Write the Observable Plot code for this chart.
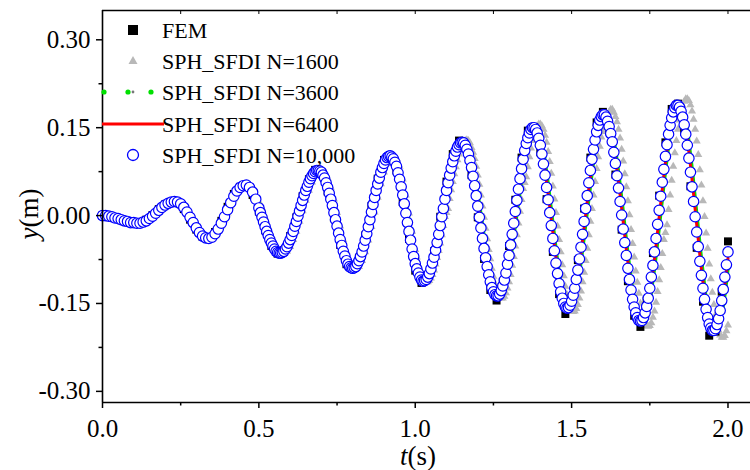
<!DOCTYPE html>
<html><head><meta charset="utf-8">
<script src="https://cdn.jsdelivr.net/npm/d3@7"></script>
<script src="https://cdn.jsdelivr.net/npm/@observablehq/plot@0.6"></script>
<style>
body{margin:0;background:#fff;}
#wrap{position:relative;width:750px;height:470px;overflow:hidden;background:#fff;}
#wrap svg.overlay{position:absolute;left:0;top:0;pointer-events:none;}
#wrap svg, #wrap svg text{font-family:'Liberation Serif','Times New Roman',serif !important;}
</style></head><body>
<div id="wrap"></div>
<script>
// ---- data ----
// SPH_SFDI N=10,000 : A: t = 0.00..0.49 (step 0.01), B: t = 0.500..0.995 (step 0.005), C: t = 1.000..2.000 (step 0.005)
const sph10000A = [0.000,0.000,-0.001,-0.002,-0.004,-0.005,-0.007,-0.009,-0.010,-0.012,
-0.012,-0.013,-0.013,-0.011,-0.009,-0.005,-0.001,0.004,0.009,0.014,
0.018,0.021,0.023,0.024,0.023,0.020,0.014,0.006,-0.003,-0.012,
-0.021,-0.029,-0.035,-0.038,-0.039,-0.037,-0.031,-0.023,-0.013,-0.002,
0.010,0.022,0.033,0.042,0.048,0.051,0.052,0.048,0.040,0.028];
const sph10000B = [0.013,0.005,-0.003,-0.011,-0.019,-0.027,-0.034,-0.041,-0.047,-0.052,
-0.057,-0.061,-0.063,-0.064,-0.064,-0.063,-0.061,-0.057,-0.053,-0.047,
-0.041,-0.034,-0.027,-0.018,-0.010,-0.001,0.008,0.017,0.026,0.035,
0.043,0.050,0.057,0.063,0.068,0.072,0.075,0.077,0.077,0.076,
0.074,0.069,0.064,0.056,0.048,0.038,0.028,0.017,0.005,-0.007,
-0.018,-0.030,-0.041,-0.051,-0.061,-0.069,-0.077,-0.083,-0.087,-0.089,
-0.090,-0.089,-0.087,-0.082,-0.077,-0.070,-0.062,-0.052,-0.042,-0.031,
-0.019,-0.007,0.006,0.019,0.031,0.043,0.054,0.064,0.074,0.082,
0.089,0.095,0.099,0.101,0.102,0.100,0.097,0.091,0.084,0.073,
0.062,0.049,0.035,0.020,0.004,-0.012,-0.027,-0.042,-0.057,-0.070];
const sph10000C = [-0.082,-0.091,-0.098,-0.105,-0.110,-0.112,-0.111,-0.109,-0.105,-0.099,
-0.091,-0.081,-0.071,-0.059,-0.046,-0.032,-0.017,-0.002,0.012,0.028,
0.043,0.056,0.069,0.081,0.092,0.102,0.110,0.117,0.121,0.124,
0.125,0.124,0.120,0.113,0.105,0.094,0.082,0.067,0.051,0.034,
0.016,-0.003,-0.021,-0.039,-0.056,-0.072,-0.087,-0.101,-0.113,-0.123,
-0.130,-0.135,-0.137,-0.137,-0.134,-0.128,-0.120,-0.110,-0.098,-0.083,
-0.068,-0.050,-0.032,-0.013,0.007,0.026,0.045,0.063,0.080,0.096,
0.111,0.123,0.133,0.141,0.147,0.150,0.150,0.147,0.141,0.132,
0.120,0.105,0.088,0.069,0.048,0.027,0.005,-0.017,-0.039,-0.060,
-0.081,-0.099,-0.116,-0.130,-0.141,-0.150,-0.156,-0.158,-0.157,-0.153,
-0.146,-0.136,-0.124,-0.109,-0.093,-0.074,-0.054,-0.032,-0.010,0.012,
0.034,0.056,0.077,0.096,0.113,0.129,0.143,0.154,0.163,0.169,
0.172,0.172,0.168,0.161,0.152,0.140,0.126,0.108,0.089,0.068,
0.047,0.024,0.001,-0.023,-0.046,-0.068,-0.090,-0.109,-0.127,-0.143,
-0.156,-0.166,-0.174,-0.179,-0.180,-0.179,-0.174,-0.166,-0.155,-0.141,
-0.124,-0.105,-0.085,-0.062,-0.039,-0.015,0.009,0.033,0.057,0.079,
0.101,0.121,0.139,0.154,0.167,0.177,0.184,0.188,0.188,0.185,
0.178,0.168,0.155,0.139,0.120,0.098,0.074,0.049,0.024,-0.002,
-0.028,-0.053,-0.078,-0.102,-0.124,-0.143,-0.160,-0.174,-0.185,-0.192,
-0.196,-0.196,-0.193,-0.186,-0.176,-0.162,-0.145,-0.126,-0.105,-0.084,
-0.062];

// SPH_SFDI N=1600 : early t = 0.00..0.99 (step 0.01), late t = 1.000..2.000 (step 0.005)
const sph1600Early = [0.000,0.000,-0.001,-0.002,-0.003,-0.005,-0.006,-0.008,-0.010,-0.011,
-0.012,-0.013,-0.013,-0.012,-0.010,-0.007,-0.003,0.002,0.007,0.012,
0.016,0.020,0.022,0.024,0.024,0.022,0.017,0.010,0.002,-0.008,
-0.017,-0.025,-0.032,-0.037,-0.039,-0.038,-0.034,-0.027,-0.018,-0.008,
0.004,0.016,0.028,0.038,0.045,0.050,0.052,0.050,0.044,0.034,
0.024,0.013,-0.003,-0.019,-0.034,-0.047,-0.057,-0.063,-0.064,-0.061,
-0.053,-0.041,-0.027,-0.010,0.008,0.026,0.043,0.057,0.068,0.075,
0.077,0.074,0.064,0.048,0.028,0.005,-0.018,-0.041,-0.061,-0.077,
-0.087,-0.090,-0.087,-0.077,-0.062,-0.042,-0.019,0.006,0.031,0.054,
0.074,0.089,0.099,0.102,0.097,0.084,0.062,0.035,0.004,-0.027];
const sph1600Late = [-0.058,-0.071,-0.084,-0.093,-0.100,-0.107,-0.112,-0.114,-0.113,-0.111,
-0.107,-0.101,-0.093,-0.083,-0.072,-0.060,-0.047,-0.033,-0.017,-0.002,
0.005,0.012,0.029,0.044,0.058,0.071,0.083,0.095,0.105,0.113,
0.121,0.125,0.128,0.129,0.128,0.124,0.116,0.108,0.097,0.084,
0.069,0.053,0.035,0.016,-0.003,-0.022,-0.040,-0.058,-0.074,-0.090,
-0.104,-0.116,-0.127,-0.134,-0.139,-0.141,-0.141,-0.138,-0.132,-0.124,
-0.113,-0.101,-0.085,-0.070,-0.052,-0.033,-0.013,0.007,0.027,0.046,
0.056,0.066,0.083,0.100,0.115,0.128,0.138,0.147,0.153,0.156,
0.156,0.153,0.147,0.137,0.125,0.109,0.092,0.072,0.050,0.028,
0.005,-0.018,-0.041,-0.062,-0.084,-0.103,-0.121,-0.135,-0.147,-0.156,
-0.162,-0.164,-0.163,-0.159,-0.152,-0.141,-0.129,-0.113,-0.097,-0.077,
-0.056,-0.033,-0.010,0.012,0.035,0.058,0.080,0.100,0.118,0.134,
0.143,0.150,0.162,0.171,0.177,0.181,0.181,0.176,0.169,0.160,
0.147,0.132,0.113,0.093,0.071,0.049,0.025,0.001,-0.024,-0.048,
-0.071,-0.095,-0.114,-0.133,-0.150,-0.164,-0.174,-0.183,-0.188,-0.189,
-0.188,-0.183,-0.174,-0.163,-0.148,-0.130,-0.110,-0.089,-0.065,-0.041,
-0.029,-0.016,0.010,0.035,0.060,0.084,0.107,0.128,0.147,0.163,
0.177,0.188,0.195,0.199,0.199,0.196,0.189,0.178,0.164,0.147,
0.127,0.104,0.078,0.052,0.025,-0.002,-0.030,-0.056,-0.083,-0.108,
-0.131,-0.152,-0.170,-0.184,-0.196,-0.204,-0.208,-0.208,-0.205,-0.197,
-0.187];

// FEM, SPH_SFDI N=3600, SPH_SFDI N=6400 : t = 0.00 .. 2.00 (step 0.02)
const femValues = [0.000,-0.001,-0.004,-0.008,-0.011,-0.012,-0.012,-0.007,0.001,0.011,
0.019,0.023,0.022,0.011,-0.007,-0.024,-0.036,-0.039,-0.028,-0.009,
0.015,0.037,0.049,0.051,0.035,0.007,-0.025,-0.052,-0.065,-0.059,
-0.035,-0.003,0.033,0.062,0.078,0.071,0.041,-0.004,-0.050,-0.083,
-0.091,-0.072,-0.034,0.016,0.063,0.095,0.102,0.077,0.023,-0.040,
-0.094,-0.115,-0.102,-0.061,-0.002,0.058,0.105,0.128,0.116,0.069,
-0.003,-0.074,-0.127,-0.145,-0.113,-0.052,0.027,0.099,0.145,0.151,
0.108,0.028,-0.062,-0.134,-0.168,-0.140,-0.076,0.012,0.099,0.159,
0.177,0.144,0.070,-0.024,-0.112,-0.171,-0.190,-0.145,-0.064,0.034,
0.125,0.182,0.191,0.143,0.050,-0.055,-0.147,-0.205,-0.198,-0.130,
-0.044];
const sph3600Values = [0.000,0.000,-0.003,-0.006,-0.009,-0.012,-0.013,-0.010,-0.003,0.006,
0.016,0.022,0.024,0.018,0.002,-0.016,-0.031,-0.038,-0.035,-0.019,
0.003,0.026,0.044,0.051,0.045,0.022,-0.009,-0.039,-0.060,-0.064,
-0.048,-0.020,0.015,0.049,0.072,0.077,0.058,0.019,-0.027,-0.068,
-0.089,-0.084,-0.054,-0.009,0.040,0.081,0.101,0.093,0.051,-0.008,
-0.068,-0.104,-0.110,-0.084,-0.034,0.024,0.079,0.115,0.124,0.097,
0.037,-0.035,-0.098,-0.134,-0.130,-0.087,-0.016,0.060,0.121,0.150,
0.134,0.073,-0.013,-0.096,-0.148,-0.154,-0.113,-0.036,0.051,0.126,
0.168,0.163,0.112,0.029,-0.065,-0.140,-0.178,-0.168,-0.109,-0.020,
0.076,0.152,0.188,0.171,0.103,0.003,-0.097,-0.172,-0.197,-0.166,
-0.089];
const sph6400Values = [0.000,-0.001,-0.004,-0.007,-0.010,-0.012,-0.013,-0.010,-0.002,0.008,
0.017,0.022,0.023,0.016,-0.001,-0.019,-0.034,-0.039,-0.033,-0.016,
0.007,0.030,0.047,0.052,0.042,0.017,-0.015,-0.044,-0.062,-0.062,
-0.044,-0.014,0.021,0.054,0.073,0.075,0.052,0.011,-0.035,-0.073,
-0.089,-0.080,-0.047,0.000,0.048,0.085,0.101,0.087,0.042,-0.019,
-0.076,-0.107,-0.107,-0.076,-0.024,0.035,0.086,0.118,0.121,0.088,
0.025,-0.047,-0.107,-0.135,-0.124,-0.076,-0.003,0.071,0.128,0.149,
0.125,0.058,-0.028,-0.107,-0.152,-0.149,-0.101,-0.021,0.066,0.136,
0.170,0.156,0.098,0.013,-0.079,-0.149,-0.179,-0.160,-0.095,-0.003,
0.090,0.160,0.187,0.161,0.086,-0.015,-0.113,-0.179,-0.194,-0.153,
-0.073];

// axis ticks and series names
const xTicks = [0, 0.5, 1.0, 1.5, 2.0];
const xMinorTicks = [0.25, 0.75, 1.25, 1.75];
const yTicks = [-0.30, -0.15, 0, 0.15, 0.30];
const yMinorTicks = [-0.225, -0.075, 0.075, 0.225];
const seriesNames = ["FEM", "SPH_SFDI N=1600", "SPH_SFDI N=3600", "SPH_SFDI N=6400", "SPH_SFDI N=10,000"];
const xTitle = ["t", "(s)"];
const yTitle = ["y", "(m)"];

// ---- build tables ----
const rows = (vals, start, step) => vals.map((y, i) => ({t: +(start + i * step).toFixed(4), y}));
const blue = rows(sph10000A, 0, 0.01).concat(rows(sph10000B, 0.5, 0.005), rows(sph10000C, 1.0, 0.005));
const gray = rows(sph1600Early, 0, 0.01).concat(rows(sph1600Late, 1.0, 0.005));
const fem = rows(femValues, 0, 0.02);
const green = rows(sph3600Values, 0, 0.02);
const red = rows(sph6400Values, 0, 0.02);

const xDomain = [0, 2.072];
const yDomain = [-0.319, 0.35];
const serif = "Liberation Serif";

const chart = Plot.plot({
  width: 750, height: 470,
  marginLeft: 102, marginRight: 0, marginTop: 10, marginBottom: 68,
  style: {fontFamily: serif, fontSize: "25px", color: "#000", background: "white", overflow: "visible"},
  x: {domain: xDomain},
  y: {domain: yDomain},
  marks: [
    Plot.dot(gray, {x: "t", y: "y", symbol: "triangle", r: 3, fill: "#b8b8b8"}),
    Plot.dot(fem, {x: "t", y: "y", symbol: "square", r: 4.5, fill: "#000"}),
    Plot.line(green, {x: "t", y: "y", stroke: "#00e000", strokeWidth: 3.5, curve: "catmull-rom"}),
    Plot.line(red, {x: "t", y: "y", stroke: "#ff0000", strokeWidth: 3, curve: "catmull-rom"}),
    Plot.dot(blue, {x: "t", y: "y", r: 5.2, stroke: "#0000ff", fill: "white", strokeWidth: 1.2}),
    Plot.ruleX([xDomain[0]], {stroke: "#000", strokeWidth: 1.6}),
    Plot.ruleY([yDomain[0]], {stroke: "#000", strokeWidth: 1.6}),
    Plot.ruleY([yDomain[1]], {stroke: "#000", strokeWidth: 1.3}),
    Plot.axisY({ticks: yTicks, tickSize: 6, tickPadding: 6, strokeWidth: 1.5, fontFamily: serif, fontSize: 25, tickFormat: d => d.toFixed(2), label: null}),
    Plot.axisY({ticks: yMinorTicks, tickSize: 3.5, strokeWidth: 1.5, tickFormat: () => "", label: null}),
    Plot.axisX({ticks: xTicks, tickSize: 6, tickPadding: 11, strokeWidth: 1.5, fontFamily: serif, fontSize: 25, tickFormat: d => d.toFixed(1), label: null}),
    Plot.axisX({ticks: xMinorTicks, tickSize: 3.5, strokeWidth: 1.5, tickFormat: () => "", label: null}),
    Plot.axisX({anchor: "top", ticks: xTicks.concat(xMinorTicks), tickSize: -3, strokeWidth: 1, tickFormat: () => "", label: null})
  ]
});
const wrap = document.getElementById("wrap");
wrap.appendChild(chart);

// ---- legend and axis titles (overlay) ----
const NS = "http://www.w3.org/2000/svg";
const ov = document.createElementNS(NS, "svg");
ov.setAttribute("class", "overlay");
ov.setAttribute("width", 750); ov.setAttribute("height", 470);
function el(tag, attrs, parent) {
  const e = document.createElementNS(NS, tag);
  for (const k in attrs) e.setAttribute(k, attrs[k]);
  (parent || ov).appendChild(e);
  return e;
}
const legY = [30, 61, 92, 124, 155];
const symX = 133, textX = 162;
el("rect", {x: symX - 5, y: legY[0] - 5, width: 10, height: 10, fill: "#000"});
el("path", {d: `M${symX},${legY[1] - 5}L${symX + 4.5},${legY[1] + 3}L${symX - 4.5},${legY[1] + 3}Z`, fill: "#b8b8b8"});
[104, 128, 151].forEach(x => el("circle", {cx: x, cy: legY[2], r: 2.6, fill: "#00e000"}));
el("circle", {cx: symX, cy: legY[2], r: 1.4, fill: "#777"});
el("line", {x1: 102, x2: 164, y1: legY[3], y2: legY[3], stroke: "#ff0000", "stroke-width": 3});
el("circle", {cx: symX, cy: legY[4], r: 5.5, fill: "white", stroke: "#0000ff", "stroke-width": 1.3});
seriesNames.forEach((name, i) => {
  const t = el("text", {x: textX, y: legY[i] + 8, "font-size": 22, fill: "#000"});
  t.textContent = name;
});
// axis titles
const xt = el("text", {x: 418, y: 465, "font-size": 27, "text-anchor": "middle", fill: "#000"});
const xt1 = el("tspan", {"font-style": "italic"}, xt); xt1.textContent = xTitle[0];
const xt2 = el("tspan", {}, xt); xt2.textContent = xTitle[1];
const yt = el("text", {transform: "translate(38,214) rotate(-90)", "font-size": 27, "text-anchor": "middle", fill: "#000"});
const yt1 = el("tspan", {"font-style": "italic"}, yt); yt1.textContent = yTitle[0];
const yt2 = el("tspan", {}, yt); yt2.textContent = yTitle[1];
wrap.appendChild(ov);
</script>
</body></html>
